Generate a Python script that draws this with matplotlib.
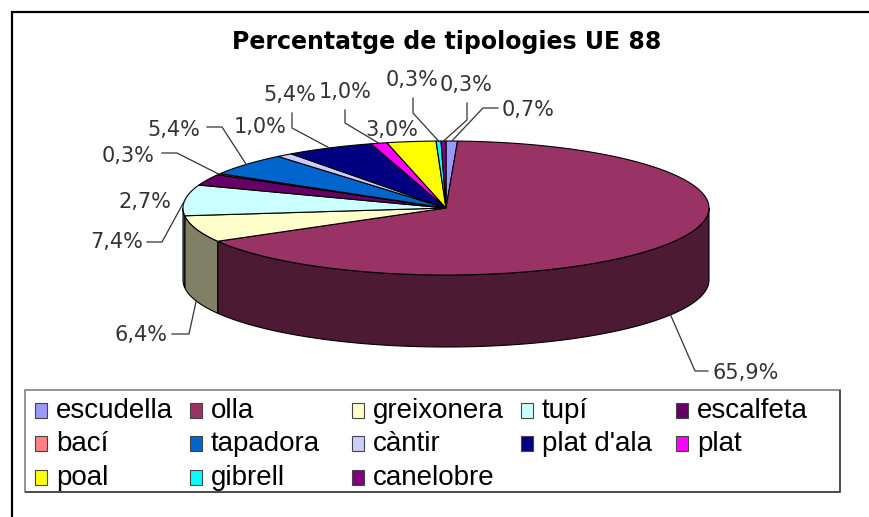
import numpy as np
import matplotlib
matplotlib.use('Agg')
import matplotlib.pyplot as plt
from matplotlib.patches import Polygon, Rectangle
from matplotlib import font_manager as fm
from matplotlib.colors import to_rgb

# ---------------- data ----------------
categories = ['escudella', 'olla', 'greixonera', 'tupí', 'escalfeta', 'bací',
              'tapadora', 'càntir', "plat d'ala", 'plat', 'poal', 'gibrell', 'canelobre']
values = [0.7, 65.9, 6.4, 7.4, 2.7, 0.3, 5.4, 1.0, 5.4, 1.0, 3.0, 0.3, 0.3]
colors = ['#9999FF', '#993366', '#FFFFCC', '#CCFFFF', '#660066', '#FF8080', '#0066CC',
          '#CCCCFF', '#000080', '#FF00FF', '#FFFF00', '#00FFFF', '#800080']
title = 'Percentatge de tipologies UE 88'

# ---------------- layout ----------------
W, H = 870, 517
CX, CY, RX, RY, DEPTH = 446, 208, 263, 67, 72

label_pos = [(502, 110, 'left'), (713, 373, 'left'), (168, 335, 'right'), (143, 242, 'right'),
             (145, 202, 'center'), (155, 156, 'right'), (200, 130, 'right'), (260, 127, 'center'),
             (290, 95, 'center'), (345, 92, 'center'), (392, 130, 'center'), (412, 80, 'center'),
             (466, 85, 'center')]
leader_elbows = [[(483, 108), (498, 108)], [(695, 371), (708, 371)], [(189, 334), (172, 334)],
                 [(162, 242), (147, 242)], None, [(177, 153), (162, 153)], [(222, 127), (207, 127)],
                 None, [(292, 128), (292, 113)], [(345, 123), (345, 110)], None,
                 [(413, 113), (413, 98)], [(467, 120), (467, 103)]]

avail = {f.name for f in fm.fontManager.ttflist}
legend_font = 'Liberation Sans Narrow' if 'Liberation Sans Narrow' in avail else 'Liberation Sans'
legend_size = 22 if legend_font == 'Liberation Sans Narrow' else 20

fig = plt.figure(figsize=(W / 100, H / 100), dpi=100)
ax = fig.add_axes([0, 0, 1, 1])
ax.set_xlim(0, W)
ax.set_ylim(H, 0)
ax.axis('off')

def ell(t_deg, dy=0.0):
    t = np.radians(t_deg)
    return CX + RX * np.sin(t), CY - RY * np.cos(t) + dy

total = sum(values)
bounds = np.concatenate([[0], np.cumsum(values)]) / total * 360.0

# side faces (front half: 90..270 deg clockwise from top)
for i, c in enumerate(colors):
    a, b = max(bounds[i], 90), min(bounds[i + 1], 270)
    if b <= a:
        continue
    ts = np.linspace(a, b, 80)
    top = [ell(t) for t in ts]
    bot = [ell(t, DEPTH) for t in ts[::-1]]
    dark = tuple(0.5 * v for v in to_rgb(c))
    ax.add_patch(Polygon(top + bot, closed=True, facecolor=dark, edgecolor='black',
                         lw=0.8, zorder=2))

# top faces
for i, c in enumerate(colors):
    ts = np.linspace(bounds[i], bounds[i + 1], max(4, int((bounds[i + 1] - bounds[i]) * 2)))
    pts = [(CX, CY)] + [ell(t) for t in ts]
    ax.add_patch(Polygon(pts, closed=True, facecolor=c, edgecolor='black', lw=0.8, zorder=3))

# labels and leaders
for i, v in enumerate(values):
    mid = (bounds[i] + bounds[i + 1]) / 2
    front = 90 < mid < 270
    anchor = ell(mid, DEPTH if front else 0)
    txt = f'{v:.1f}%'.replace('.', ',')
    x, y, ha = label_pos[i]
    ax.text(x, y, txt, ha=ha, va='center', fontsize=15, color='#333333',
            family='DejaVu Sans', zorder=5)
    if leader_elbows[i] is not None:
        pts = [anchor] + leader_elbows[i]
        ax.plot([p[0] for p in pts], [p[1] for p in pts], color='#333333', lw=0.9, zorder=4)

# title
ax.text(447, 42, title, ha='center', va='center', fontsize=17, fontweight='bold',
        family='DejaVu Sans', color='black')

# outer chart frame (cropped at right / bottom)
ax.plot([12, 12, W + 5], [H + 5, 12, 12], color='black', lw=1.6, solid_joinstyle='miter', zorder=6)

# legend
ax.add_patch(Rectangle((25, 390), 815, 102, facecolor='white', edgecolor='#808080', lw=1.2, zorder=6))
ax.plot([840, 840, 26], [391, 492, 492], color='#404040', lw=1.2, zorder=6)
col_x = [56, 211, 373, 542, 697]
row_y = [410, 443, 477]
for i, (cat, c) in enumerate(zip(categories, colors)):
    r, k = divmod(i, 5)
    tx, ty = col_x[k], row_y[r]
    ax.add_patch(Rectangle((tx - 21, ty - 7), 12, 15, facecolor=c, edgecolor='#444444',
                           lw=0.8, zorder=7))
    ax.text(tx, ty + 1, cat, ha='left', va='center', fontsize=legend_size, family=legend_font,
            color='black', zorder=7)

fig.savefig('out.png', dpi=100)
